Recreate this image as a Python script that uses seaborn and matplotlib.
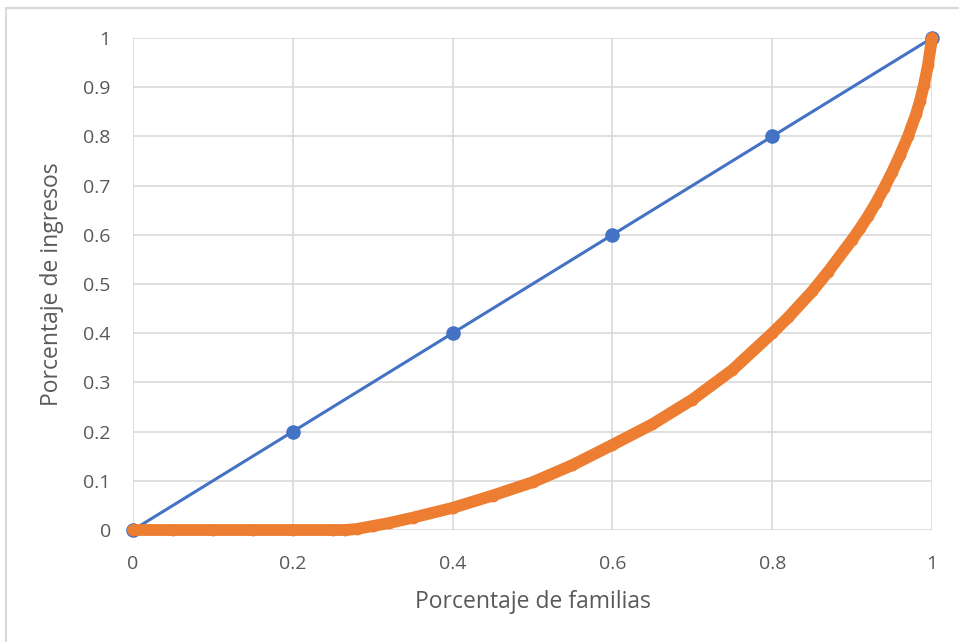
import numpy as np
import pandas as pd
import matplotlib
matplotlib.use("Agg")
import matplotlib.pyplot as plt
import seaborn as sns
from matplotlib.patches import Rectangle

# linea de igualdad
igualdad_x = [0, 0.2, 0.4, 0.6, 0.8, 1.0]
igualdad_y = [0, 0.2, 0.4, 0.6, 0.8, 1.0]

# curva de Lorenz
familias = [0, 0.05, 0.1, 0.15, 0.2, 0.25, 0.265, 0.28, 0.3, 0.32, 0.35, 0.4, 0.45, 0.5,
            0.55, 0.6, 0.65, 0.7, 0.75, 0.8, 0.82, 0.85, 0.87, 0.9, 0.91, 0.92, 0.93,
            0.94, 0.95, 0.96, 0.97, 0.98, 0.985, 0.99, 0.995, 1.0]
ingresos = [0, 0, 0, 0, 0, 0, 0, 0.002, 0.008, 0.014, 0.025, 0.045, 0.07, 0.097,
            0.132, 0.173, 0.215, 0.265, 0.325, 0.40, 0.432, 0.485, 0.525, 0.59, 0.613,
            0.638, 0.665, 0.695, 0.727, 0.762, 0.80, 0.845, 0.872, 0.905, 0.945, 1.0]

ticks = [0, 0.2, 0.4, 0.6, 0.8, 1]
yticks = [0, 0.1, 0.2, 0.3, 0.4, 0.5, 0.6, 0.7, 0.8, 0.9, 1]

sns.set_style("white")
plt.rcParams['font.family'] = ['Open Sans', 'DejaVu Sans']

azul = '#4472C4'
naranja = '#ED7D31'
gris = '#595959'

df_ig = pd.DataFrame({'x': igualdad_x, 'y': igualdad_y})
df_lz = pd.DataFrame({'x': familias, 'y': ingresos})

fig = plt.figure(figsize=(9.59, 6.42), dpi=100)
ax = fig.add_axes([133/959, 1 - 530/642, (932-133)/959, (530-38)/642])

sns.lineplot(data=df_ig, x='x', y='y', ax=ax, color=azul, linewidth=2.2,
             marker='o', markersize=10.5, markeredgewidth=0, zorder=3)
sns.lineplot(data=df_lz, x='x', y='y', ax=ax, color=naranja, linewidth=8.5,
             marker='o', markersize=8.5, markeredgewidth=0, zorder=4,
             solid_capstyle='round', solid_joinstyle='round')

ax.set_xlim(0, 1)
ax.set_ylim(0, 1)
ax.set_xticks(ticks)
ax.set_xticklabels(['0', '0.2', '0.4', '0.6', '0.8', '1'])
ax.set_yticks(yticks)
ax.set_yticklabels(['0', '0.1', '0.2', '0.3', '0.4', '0.5', '0.6', '0.7', '0.8', '0.9', '1'])
ax.grid(True, color='#D9D9D9', linewidth=1.2)
ax.set_axisbelow(True)
for s in ax.spines.values():
    s.set_visible(False)
ax.tick_params(axis='x', length=0, labelsize=14, labelcolor=gris, pad=18)
ax.tick_params(axis='y', length=0, labelsize=14, labelcolor=gris, pad=16)
ax.set_xlabel('Porcentaje de familias', fontsize=16.5, color=gris, labelpad=12)
ax.set_ylabel('Porcentaje de ingresos', fontsize=16.5, color=gris, labelpad=14)
for c in ax.collections + ax.lines:
    c.set_clip_on(False)

# borde exterior
fig.patches.append(Rectangle((6/959, -0.05), 1.0, 1 - 8/642 + 0.05, transform=fig.transFigure,
                             fill=False, edgecolor='#D9D9D9', linewidth=1.5, zorder=0))

fig.savefig('out.png', dpi=100)
